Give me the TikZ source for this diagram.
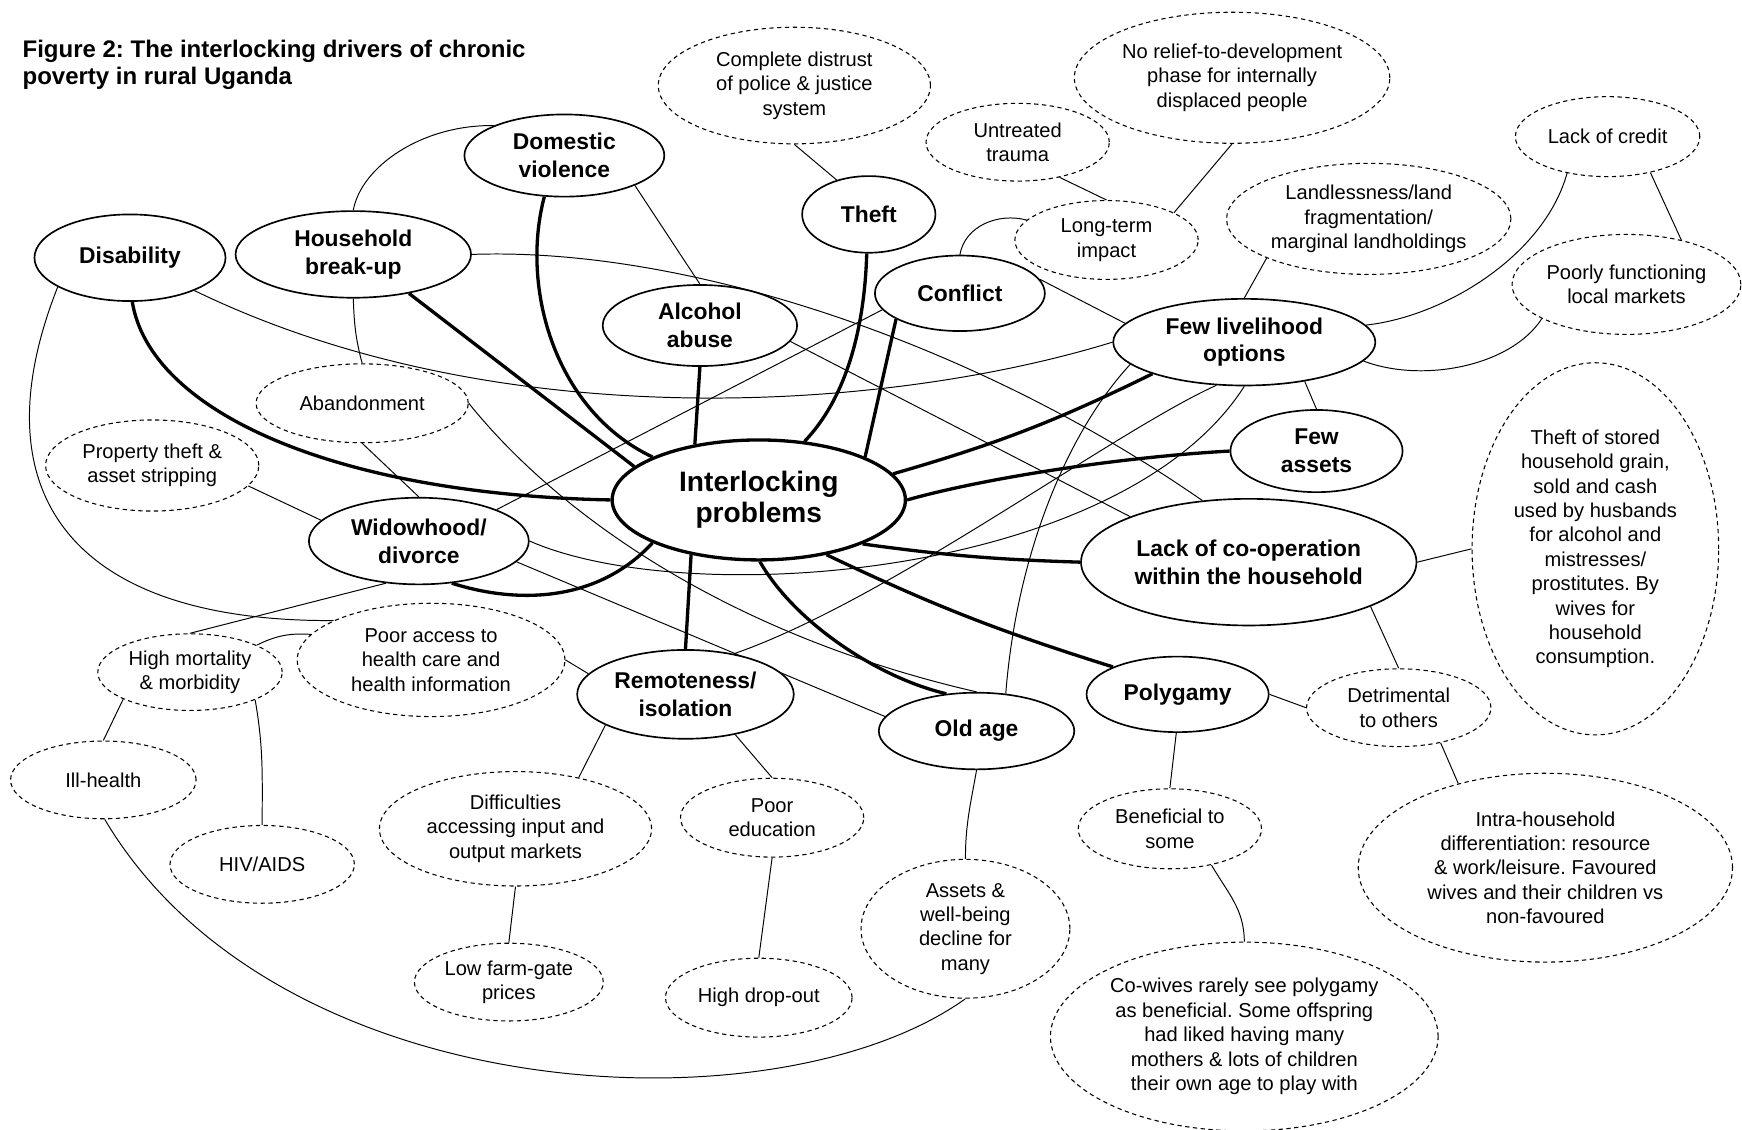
\documentclass[tikz,border=0pt]{standalone}
\usepackage{fontspec}
\setmainfont{Liberation Sans}
\frenchspacing
\usetikzlibrary{shapes.geometric,backgrounds}
\tikzstyle{problem} = [draw=black, fill=white, ellipse, line width=0.85pt,
    inner sep=0pt, align=center, font=\fontsize{11.7}{14.2}\selectfont\bfseries]
\tikzstyle{detail} = [draw=black, fill=white, ellipse, line width=0.55pt,
    dash pattern=on 2.2pt off 1.8pt, inner sep=0pt, align=center,
    font=\fontsize{10.3}{12.5}\selectfont]
\tikzstyle{hub} = [problem, line width=1.7pt, font=\fontsize{14.4}{16}\selectfont\bfseries]
\tikzstyle{strong} = [line width=1.7pt]
\tikzstyle{weak} = [line width=0.5pt]
\tikzstyle{heading} = [inner sep=0pt, align=left, anchor=north west,
    font=\fontsize{12.3}{13.6}\selectfont\bfseries]

\begin{document}
\begin{tikzpicture}[x=0.02cm, y=-0.02cm]
                \useasboundingbox (0,0) rectangle (1568,1017);
                \node [heading] (title) at (20,36) {Figure 2: The interlocking drivers of chronic\\poverty in rural Uganda};
                % the problems
                \node [hub, minimum width=5.28cm, minimum height=2.16cm] (centre) at (683,450) {Interlocking\\problems};
                \node [problem, minimum width=3.44cm, minimum height=1.56cm] (disab) at (117,232) {Disability};
                \node [problem, minimum width=4.24cm, minimum height=1.56cm] (breakup) at (318,229) {Household\\break-up};
                \node [problem, minimum width=3.6cm, minimum height=1.48cm] (domviol) at (508,140) {Domestic\\violence};
                \node [problem, minimum width=2.4cm, minimum height=1.38cm] (theft) at (782,193) {Theft};
                \node [problem, minimum width=3.06cm, minimum height=1.36cm] (conflict) at (864,264) {Conflict};
                \node [problem, minimum width=3.5cm, minimum height=1.46cm] (alcohol) at (630,293) {Alcohol\\abuse};
                \node [problem, minimum width=4.72cm, minimum height=1.56cm] (livelihood) at (1120,308) {Few livelihood\\options};
                \node [problem, minimum width=3.1cm, minimum height=1.48cm] (assets) at (1185,406) {Few\\assets};
                \node [problem, minimum width=3.96cm, minimum height=1.56cm] (widow) at (377,487) {Widowhood/\\divorce};
                \node [problem, minimum width=6.04cm, minimum height=2.28cm] (coop) at (1124,506) {Lack of co-operation\\within the household};
                \node [problem, minimum width=3.28cm, minimum height=1.36cm] (polygamy) at (1060,625) {Polygamy};
                \node [problem, minimum width=3.52cm, minimum height=1.38cm] (oldage) at (879,658) {Old age};
                \node [problem, minimum width=3.9cm, minimum height=1.6cm] (remote) at (617,625) {Remoteness/\\isolation};
                % the details
                \node [detail, minimum width=4.9cm, minimum height=2.1cm] (distrust) at (715,77) {Complete distrust\\of police \& justice\\system};
                \node [detail, minimum width=3.3cm, minimum height=1.4cm] (trauma) at (916,128) {Untreated\\trauma};
                \node [detail, minimum width=5.68cm, minimum height=2.36cm] (relief) at (1109,70) {No relief-to-development\\phase for internally\\displaced people};
                \node [detail, minimum width=3.3cm, minimum height=1.42cm] (longterm) at (996,216) {Long-term\\impact};
                \node [detail, minimum width=5.12cm, minimum height=2.0cm] (landless) at (1232,197) {Landlessness/land\\fragmentation/\\marginal landholdings};
                \node [detail, minimum width=3.32cm, minimum height=1.44cm] (credit) at (1447,123) {Lack of credit};
                \node [detail, minimum width=4.12cm, minimum height=1.8cm] (markets) at (1464,256) {Poorly functioning\\local markets};
                \node [detail, minimum width=3.82cm, minimum height=1.42cm] (abandon) at (326,363) {Abandonment};
                \node [detail, minimum width=3.84cm, minimum height=1.64cm] (property) at (137,419) {Property theft \&\\asset stripping};
                \node [detail, minimum width=4.44cm, minimum height=6.7cm] (stolen) at (1436,494) {Theft of stored\\household grain,\\sold and cash\\used by husbands\\for alcohol and\\mistresses/\\prostitutes. By\\wives for\\household\\consumption.};
                \node [detail, minimum width=3.32cm, minimum height=1.4cm] (detriment) at (1259,637) {Detrimental\\to others};
                \node [detail, minimum width=3.3cm, minimum height=1.44cm] (benefit) at (1053,746) {Beneficial to\\some};
                \node [detail, minimum width=6.74cm, minimum height=3.4cm] (intra) at (1391,781) {Intra-household\\differentiation: resource\\\& work/leisure. Favoured\\wives and their children vs\\non-favoured};
                \node [detail, minimum width=6.98cm, minimum height=3.4cm] (cowives) at (1120,933) {Co-wives rarely see polygamy\\as beneficial. Some offspring\\had liked having many\\mothers \& lots of children\\their own age to play with};
                \node [detail, minimum width=3.76cm, minimum height=2.5cm] (decline) at (869,836) {Assets \&\\well-being\\decline for\\many};
                \node [detail, minimum width=3.3cm, minimum height=1.42cm] (educ) at (695,736) {Poor\\education};
                \node [detail, minimum width=3.36cm, minimum height=1.42cm] (dropout) at (683,898) {High drop-out};
                \node [detail, minimum width=4.9cm, minimum height=2.06cm] (difficult) at (464,746) {Difficulties\\accessing input and\\output markets};
                \node [detail, minimum width=3.4cm, minimum height=1.4cm] (farmgate) at (458,884) {Low farm-gate\\prices};
                \node [detail, minimum width=4.82cm, minimum height=2.04cm] (access) at (388,594) {Poor access to\\health care and\\health information};
                \node [detail, minimum width=3.32cm, minimum height=1.38cm] (mortality) at (171,605) {High mortality\\\& morbidity};
                \node [detail, minimum width=3.34cm, minimum height=1.4cm] (illhealth) at (93,702) {Ill-health};
                \node [detail, minimum width=3.32cm, minimum height=1.4cm] (hiv) at (236,778) {HIV/AIDS};
                \begin{pgfonlayer}{background}
                % links into the centre
                \draw [strong] (disab.-87) .. controls (135,370) and (300,445) .. (centre.180);
                \draw [strong] (breakup.-35) -- (centre.165);
                \draw [strong] (domviol.-116) .. controls (468,260) and (500,370) .. (centre.158);
                \draw [strong] (alcohol.-90) -- (centre.139);
                \draw [strong] (theft.-93) .. controls (778,300) and (760,360) .. (centre.52);
                \draw [strong] (conflict.-158) -- (centre.22);
                \draw [strong] (centre.11) to[bend right=5] (livelihood.-161);
                \draw [strong] (centre.0) .. controls (880,432) and (1000,412) .. (assets.180);
                \draw [strong] (centre.-23) to[bend right=3] (coop.180);
                \draw [strong] (centre.-39) to[bend right=4] (polygamy.157);
                \draw [strong] (centre.-89) .. controls (715,560) and (790,610) .. (oldage.129);
                \draw [strong] (centre.-141) -- (remote.90);
                \draw [strong] (centre.-158) .. controls (540,540) and (470,545) .. (widow.-52);
                % other links
                \draw [weak] (breakup.90) .. controls (325,150) and (380,112) .. (domviol.157);
                \draw [weak] (domviol.-23) -- (alcohol.90);
                \draw [weak] (theft.133) -- (distrust.-90);
                \draw [weak] (conflict.90) to[out=80,in=165] (longterm.166);
                \draw [weak] (trauma.-40) -- (longterm.90);
                \draw [weak] (relief.-90) -- (longterm.22);
                \draw [weak] (conflict.10) -- (livelihood.171);
                \draw [weak] (landless.-159) -- (livelihood.90);
                \draw [weak] (credit.-138) .. controls (1390,230) and (1300,285) .. (livelihood.8);
                \draw [weak] (credit.-40) -- (markets.39);
                \draw [weak] (markets.-158) .. controls (1360,330) and (1280,345) .. (livelihood.-9);
                \draw [weak] (livelihood.-33) -- (assets.90);
                \draw [weak] (coop.0) -- (stolen.180);
                \draw [weak] (coop.-20) -- (detriment.90);
                \draw [weak] (polygamy.0) -- (detriment.180);
                \draw [weak] (detriment.-40) -- (intra.136);
                \draw [weak] (polygamy.-92) -- (benefit.90);
                \draw [weak] (benefit.-41) to[out=-60,in=90] (cowives.90);
                \draw [weak] (oldage.-90) to[out=-100,in=90] (decline.90);
                \draw [weak] (remote.-159) -- (difficult.39);
                \draw [weak] (remote.-39) -- (educ.90);
                \draw [weak] (difficult.-90) -- (farmgate.90);
                \draw [weak] (educ.-90) -- (dropout.90);
                \draw [weak] (access.0) -- (remote.168);
                \draw [weak] (access.168) to[bend right=15] (mortality.22);
                \draw [weak] (widow.-128) -- (mortality.90);
                \draw [weak] (disab.-158) .. controls (-20,440) and (60,560) .. (access.158);
                \draw [weak] (mortality.-158) -- (illhealth.90);
                \draw [weak] (mortality.-23) to[out=-80,in=90] (hiv.90);
                \draw [weak] (illhealth.-88) .. controls (250,1000) and (700,1020) .. (decline.-90);
                \draw [weak] (property.-12) -- (widow.168);
                \draw [weak] (abandon.-90) -- (widow.90);
                \draw [weak] (breakup.-90) to[out=-88,in=105] (abandon.90);
                \draw [weak] (disab.-27) .. controls (450,395) and (800,370) .. (livelihood.180);
                \draw [weak] (breakup.0) .. controls (620,222) and (880,310) .. (coop.127);
                \draw [weak] (alcohol.-10) -- (coop.159);
                \draw [weak] (conflict.-168) -- (widow.22);
                \draw [weak] (widow.0) .. controls (620,550) and (1010,520) .. (livelihood.-90);
                \draw [weak] (livelihood.-169) .. controls (960,390) and (915,500) .. (oldage.52);
                \draw [weak] (livelihood.-123) .. controls (1000,390) and (800,540) .. (remote.40);
                \draw [weak] (widow.-12) -- (oldage.171);
                \draw [weak] (abandon.0) .. controls (500,460) and (650,570) .. (oldage.90);
                \end{pgfonlayer}
            \end{tikzpicture}
\end{document}
